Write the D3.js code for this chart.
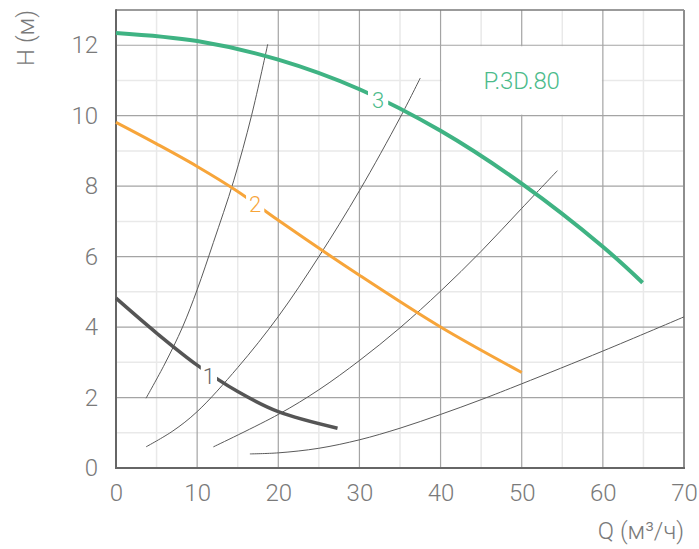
<!DOCTYPE html>
<html>
<head>
<meta charset="utf-8">
<script src="https://cdn.jsdelivr.net/npm/d3@7/dist/d3.min.js"></script>
<style>
  html, body { margin: 0; padding: 0; background: #fff; }
  svg { display: block; font-family: Roboto, "Noto Sans", sans-serif; }
</style>
</head>
<body>
<svg id="chart" width="699" height="549"></svg>
<script>
// Axis ticks
const qTicks = [0, 10, 20, 30, 40, 50, 60, 70];
const hTicks = [0, 2, 4, 6, 8, 10, 12];
const qMinor = [5, 15, 25, 35, 45, 55, 65];
const hMinor = [1, 3, 5, 7, 9, 11];

// Pump characteristics, speed 1..3: [Q m³/h, H m]
const pump1 = [[0, 4.82], [5, 3.83], [10, 2.92], [15, 2.17], [20, 1.6], [27.3, 1.13]];
const pump2 = [[0, 9.81], [5, 9.2], [10, 8.56], [15, 7.85], [20, 7.03], [30, 5.47], [40, 4.0], [50, 2.71]];
const pump3 = [[0, 12.35], [10, 12.12], [20, 11.59], [30, 10.75], [40, 9.57], [50, 8.07], [60, 6.28], [64.9, 5.26]];

// System resistance curves
const systemA = [[3.7, 1.98], [6, 2.95], [8.2, 4.0], [10, 5.06], [12, 6.4], [14.5, 8.15], [16.7, 10.0], [18.7, 12.03]];
const systemB = [[3.7, 0.6], [7, 1.05], [10, 1.6], [15, 2.85], [20, 4.3], [25, 6.0], [30, 7.87], [35, 9.94], [37.5, 11.07]];
const systemC = [[12, 0.6], [20, 1.52], [25, 2.22], [30, 3.05], [35, 3.98], [40, 5.02], [45, 6.15], [50, 7.37], [54.4, 8.44]];
const systemD = [[16.5, 0.4], [20, 0.43], [25, 0.56], [30, 0.8], [35, 1.13], [40, 1.52], [45, 1.94], [50, 2.39], [60, 3.32], [70, 4.29]];

// Curve labels: text and anchor point [Q, H]
const curveNames = ["1", "2", "3"];
const curveLabelAt = [[11.45, 2.6], [17.15, 7.5], [32.3, 10.45]];
const modelName = "P.3D.80";

const W = 699, H = 549;
const margin = { top: 10, right: 15, bottom: 81, left: 116 };
const svg = d3.select("#chart");

const x = d3.scaleLinear().domain([0, 70]).range([margin.left, W - margin.right]);
const y = d3.scaleLinear().domain([0, 13]).range([H - margin.bottom, margin.top]);

const [x0, x1] = x.range();
const [y0, y1] = y.range();

// Grid: minor then major
const grid = svg.append("g");
grid.selectAll(".vmin").data(qMinor).join("line")
  .attr("x1", d => x(d)).attr("x2", d => x(d)).attr("y1", y0).attr("y2", y1)
  .attr("stroke", "#e9e9e9").attr("stroke-width", 1.5);
grid.selectAll(".hmin").data(hMinor).join("line")
  .attr("x1", x0).attr("x2", x1).attr("y1", d => y(d)).attr("y2", d => y(d))
  .attr("stroke", "#e9e9e9").attr("stroke-width", 1.5);
grid.selectAll(".vmaj").data(qTicks.slice(1, -1)).join("line")
  .attr("x1", d => x(d)).attr("x2", d => x(d)).attr("y1", y0).attr("y2", y1)
  .attr("stroke", "#a4a4a4").attr("stroke-width", 1.2);
grid.selectAll(".hmaj").data(hTicks.slice(1)).join("line")
  .attr("x1", x0).attr("x2", x1).attr("y1", d => y(d)).attr("y2", d => y(d))
  .attr("stroke", "#a4a4a4").attr("stroke-width", 1.2);

// White panel for the model name
svg.append("rect")
  .attr("x", x(40) + 1).attr("y", y(12) + 1)
  .attr("width", x(60) - x(40) - 2).attr("height", y(10) - y(12) - 2)
  .attr("fill", "#fff");
svg.append("text")
  .attr("x", x(50)).attr("y", y(11)).attr("dy", "0.36em")
  .attr("text-anchor", "middle")
  .attr("font-size", 24).attr("font-weight", 300)
  .attr("letter-spacing", -0.1)
  .attr("fill", "#4cbb8b")
  .text(modelName);

// Frame
svg.append("line").attr("x1", x0).attr("x2", x1).attr("y1", y1).attr("y2", y1)
  .attr("stroke", "#7a7a7a").attr("stroke-width", 1.5);
svg.append("line").attr("x1", x1).attr("x2", x1).attr("y1", y1).attr("y2", y0)
  .attr("stroke", "#8e8e8e").attr("stroke-width", 2);
svg.append("line").attr("x1", x0).attr("x2", x0).attr("y1", y1 - 0.75).attr("y2", y0)
  .attr("stroke", "#666").attr("stroke-width", 2);
svg.append("line").attr("x1", x0 - 1).attr("x2", x1 + 1).attr("y1", y0).attr("y2", y0)
  .attr("stroke", "#666").attr("stroke-width", 2);

// Axes (labels only)
const tickStyle = g => {
  g.select(".domain").remove();
  g.attr("font-family", null).attr("font-size", null);
  g.selectAll("text").attr("font-size", 24).attr("font-weight", 300).attr("fill", "#7a7a7a");
};
svg.append("g").attr("transform", `translate(0,${y0})`)
  .call(d3.axisBottom(x).tickValues(qTicks).tickSize(0).tickPadding(16))
  .call(tickStyle);
svg.append("g").attr("transform", `translate(${x0},0)`)
  .call(d3.axisLeft(y).tickValues(hTicks).tickSize(0).tickPadding(18))
  .call(tickStyle);

// Axis titles
svg.append("text")
  .attr("x", x1).attr("y", 539).attr("text-anchor", "end")
  .attr("font-size", 24).attr("font-weight", 300).attr("fill", "#7a7a7a")
  .text("Q (м³/ч)");
svg.append("text")
  .attr("transform", `translate(34,${y1}) rotate(-90)`)
  .attr("text-anchor", "end")
  .attr("font-size", 24).attr("font-weight", 300).attr("fill", "#7a7a7a")
  .text("H (м)");

const line = d3.line().x(d => x(d[0])).y(d => y(d[1])).curve(d3.curveCatmullRom.alpha(0.5));

// System curves
svg.append("g").selectAll("path")
  .data([systemA, systemB, systemC, systemD]).join("path")
  .attr("d", line).attr("fill", "none")
  .attr("stroke", "#5a5a5a").attr("stroke-width", 1);

// Pump curves with a gap under each label
const pumps = [pump1, pump2, pump3];
const colors = ["#555555", "#f7a53a", "#3fb383"];
const labelColors = ["#666666", "#f7a53a", "#4cbb8b"];
const widths = [3.5, 3, 4];
const pads = [[2, 1], [3, 1], [4, 1]];
const defs = svg.append("defs");
const labelG = svg.append("g");
const curveG = svg.insert("g", () => labelG.node());

pumps.forEach((data, i) => {
  const t = labelG.append("text")
    .attr("x", x(curveLabelAt[i][0])).attr("y", y(curveLabelAt[i][1])).attr("dy", "0.36em")
    .attr("text-anchor", "middle")
    .attr("font-size", 22).attr("font-weight", 300)
    .attr("fill", labelColors[i])
    .text(curveNames[i]);
  const b = t.node().getBBox();
  const m = defs.append("mask").attr("id", "gap" + i)
    .attr("maskUnits", "userSpaceOnUse").attr("x", 0).attr("y", 0).attr("width", W).attr("height", H);
  m.append("rect").attr("x", 0).attr("y", 0).attr("width", W).attr("height", H).attr("fill", "#fff");
  m.append("rect")
    .attr("x", b.x - pads[i][0]).attr("y", b.y - pads[i][1])
    .attr("width", b.width + 2 * pads[i][0]).attr("height", b.height + 2 * pads[i][1])
    .attr("fill", "#000");
  curveG.append("path").datum(data)
    .attr("d", line).attr("fill", "none")
    .attr("stroke", colors[i]).attr("stroke-width", widths[i])
    .attr("mask", `url(#gap${i})`);
});
</script>
</body>
</html>
